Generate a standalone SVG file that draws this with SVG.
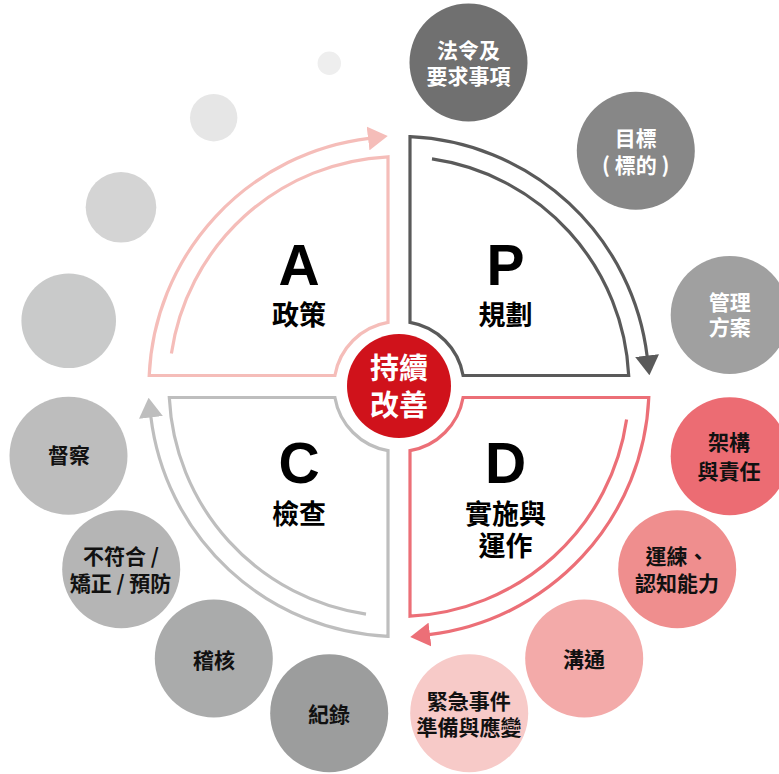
<svg xmlns="http://www.w3.org/2000/svg" width="779" height="774" viewBox="0 0 779 774">
<style>
.cjk{font-family:"Noto Sans CJK TC","Noto Sans CJK SC",sans-serif;font-weight:700;text-anchor:middle}
.big{font-family:"Liberation Sans",Arial,sans-serif;font-weight:700;font-size:57px;text-anchor:middle;fill:#000}
.lbl{font-size:27px;fill:#000}
.ctr{font-size:29px;fill:#fff}
.nt{font-size:21px}
.w{fill:#fff}
.k{fill:#111}
.ring{fill:none;stroke-width:3.2;stroke-linejoin:miter}
</style>
<defs>
<marker id="mA" markerUnits="userSpaceOnUse" markerWidth="20" markerHeight="24" viewBox="0 0 19 23" refX="1" refY="11.5" orient="auto"><path d="M0,0 L19,11.5 L0,23 Z" fill="#F5BDB9"/></marker>
<marker id="mP" markerUnits="userSpaceOnUse" markerWidth="20" markerHeight="24" viewBox="0 0 19 23" refX="1" refY="11.5" orient="auto"><path d="M0,0 L19,11.5 L0,23 Z" fill="#5A5A5A"/></marker>
<marker id="mD" markerUnits="userSpaceOnUse" markerWidth="20" markerHeight="24" viewBox="0 0 19 23" refX="1" refY="11.5" orient="auto"><path d="M0,0 L19,11.5 L0,23 Z" fill="#EC6F77"/></marker>
<marker id="mC" markerUnits="userSpaceOnUse" markerWidth="20" markerHeight="24" viewBox="0 0 19 23" refX="1" refY="11.5" orient="auto"><path d="M0,0 L19,11.5 L0,23 Z" fill="#BEBEBE"/></marker>
</defs>
<rect width="779" height="774" fill="#fff"/>

<g id="decor">
<circle cx="329.3" cy="63.3" r="11.7" fill="#EEEEEE"/>
<circle cx="213.7" cy="117.7" r="23.7" fill="#E6E6E6"/>
<circle cx="121" cy="207.3" r="35.3" fill="#D4D4D4"/>
<circle cx="68.7" cy="320.7" r="47.3" fill="#C9CACA"/>
</g>

<g id="connectors">
<path id="arcA" class="ring" stroke="#F5BDB9" marker-end="url(#mA)" d="M171.4 353.5 A230 230 0 0 1 388 156.8 L388 322.4 A65 65 0 0 0 334.9 375.5 L149.2 375.5 A250 250 0 0 1 369.1 138.3"/>
<path id="arcP" class="ring" stroke="#5A5A5A" marker-end="url(#mP)" d="M432 158.9 A230 230 0 0 1 628.7 375.5 L463.1 375.5 A65 65 0 0 0 410 322.4 L410 136.7 A250 250 0 0 1 647.2 356.6"/>
<path id="arcD" class="ring" stroke="#EC6F77" marker-end="url(#mD)" d="M626.6 419.5 A230 230 0 0 1 410 616.2 L410 450.6 A65 65 0 0 0 463.1 397.5 L648.8 397.5 A250 250 0 0 1 428.9 634.7"/>
<path id="arcC" class="ring" stroke="#BEBEBE" marker-end="url(#mC)" d="M366 614.1 A230 230 0 0 1 169.3 397.5 L334.9 397.5 A65 65 0 0 0 388 450.6 L388 636.3 A250 250 0 0 1 150.8 416.4"/>
</g>

<g id="node-A">
<text class="big" x="299" y="285">A</text>
<text class="cjk lbl" x="299" y="325">政策</text>
</g>
<g id="node-P">
<text class="big" x="505.5" y="285">P</text>
<text class="cjk lbl" x="505.5" y="325">規劃</text>
</g>
<g id="node-D">
<text class="big" x="505.5" y="483">D</text>
<text class="cjk lbl"><tspan x="505.5" y="524">實施與</tspan><tspan x="505.5" y="556">運作</tspan></text>
</g>
<g id="node-C">
<text class="big" x="299" y="483">C</text>
<text class="cjk lbl" x="299" y="524">檢查</text>
</g>

<g id="node-center">
<circle cx="399" cy="386" r="52" fill="#D0121B"/>
<text class="cjk ctr"><tspan x="399" y="379">持續</tspan><tspan x="399" y="415.5">改善</tspan></text>
</g>

<g id="node-law">
<circle cx="468.5" cy="62.5" r="59" fill="#707070"/>
<text class="cjk nt w"><tspan x="468.5" y="58">法令及</tspan><tspan x="468.5" y="84">要求事項</tspan></text>
</g>
<g id="node-objective">
<circle cx="635.8" cy="150.8" r="59" fill="#878787"/>
<text class="cjk nt w"><tspan x="635.8" y="146">目標</tspan><tspan x="635.8" y="172.5">( 標的 )</tspan></text>
</g>
<g id="node-program">
<circle cx="729.7" cy="315" r="59" fill="#A0A0A0"/>
<text class="cjk nt w"><tspan x="729.7" y="310">管理</tspan><tspan x="729.7" y="335">方案</tspan></text>
</g>
<g id="node-structure">
<circle cx="729.7" cy="456.2" r="59" fill="#EC6C73"/>
<text class="cjk nt k"><tspan x="729" y="450">架構</tspan><tspan x="729" y="478.5">與責任</tspan></text>
</g>
<g id="node-training">
<circle cx="677.2" cy="569.2" r="59" fill="#EF8E8E"/>
<text class="cjk nt k"><tspan x="677" y="563.5">運練、</tspan><tspan x="677" y="590.5">認知能力</tspan></text>
</g>
<g id="node-communication">
<circle cx="584.2" cy="658.5" r="59" fill="#F3AAA9"/>
<text class="cjk nt k" x="584" y="666.5">溝通</text>
</g>
<g id="node-emergency">
<circle cx="469.2" cy="713.2" r="59" fill="#F7CAC8"/>
<text class="cjk nt k"><tspan x="468.7" y="708.5">緊急事件</tspan><tspan x="469" y="734.5">準備與應變</tspan></text>
</g>
<g id="node-records">
<circle cx="329.2" cy="713.2" r="59" fill="#9C9D9D"/>
<text class="cjk nt k" x="329" y="721.5">紀錄</text>
</g>
<g id="node-audit">
<circle cx="213.8" cy="658.5" r="59" fill="#AAABAB"/>
<text class="cjk nt k" x="214" y="667.5">稽核</text>
</g>
<g id="node-nonconformity">
<circle cx="121.2" cy="569.2" r="59" fill="#B5B5B5"/>
<text class="cjk nt k"><tspan x="121" y="564">不符合 /</tspan><tspan x="120.5" y="591">矯正 / 預防</tspan></text>
</g>
<g id="node-supervision">
<circle cx="68.5" cy="455.8" r="59" fill="#BDBDBD"/>
<text class="cjk nt k" x="69" y="463">督察</text>
</g>
</svg>
